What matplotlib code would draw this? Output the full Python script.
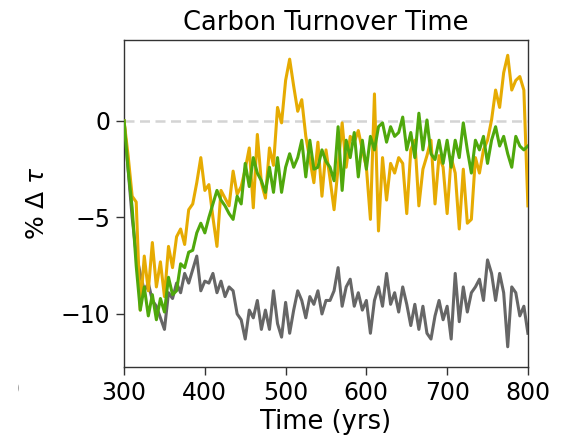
""" Carbon turnover time: % change relative to year 300
"""
import numpy as np
import matplotlib
matplotlib.use('Agg')
import matplotlib.pyplot as plt
from matplotlib.transforms import Bbox

# 5-year samples, 300 .. 800
years = np.arange(300, 801, 5)

tau_orange = [
    0.0, -1.8, -3.9, -4.2, -9.8, -7.0, -8.8, -6.3, -8.6, -7.3,
    -9.1, -6.5, -7.6, -6.0, -5.6, -6.4, -4.6, -4.3, -3.2, -1.9,
    -3.6, -3.3, -5.0, -6.5, -3.6, -4.0, -4.4, -2.6, -3.8, -3.4,
    -2.5, -1.4, -4.5, -0.7, -3.2, -4.0, -1.4, -2.3, 0.7, -0.1,
    2.1, 3.2, 1.8, 0.5, 1.1, -0.8, -2.0, -3.2, -1.1, -3.9,
    -1.5, -3.0, -4.6, -2.4, -0.1, -2.4, -0.8, -1.1, -0.5, -1.5,
    -2.4, -5.1, 1.4, -5.7, -1.9, -4.1, -2.2, -2.7, -1.9, -2.2,
    -4.8, -1.5, -1.0, -4.4, -2.5, -1.8, -1.0, -4.3, -1.8, -2.4,
    -4.8, -1.9, -2.7, -5.6, -2.5, -5.3, -5.1, -1.9, -2.7, -1.5,
    -1.0, 0.05, 1.6, 0.7, 2.5, 3.4, 1.6, 2.1, 2.3, 1.6,
    -4.4,
]

tau_green = [
    0.0, -2.5, -4.5, -7.5, -9.8, -8.6, -10.1, -9.0, -10.3, -9.2,
    -9.9, -8.1, -9.0, -8.8, -7.4, -7.6, -6.8, -6.7, -5.8, -5.3,
    -5.8, -5.0, -4.3, -3.6, -4.1, -4.4, -4.8, -5.1, -3.9, -4.3,
    -2.2, -3.4, -1.9, -2.7, -3.1, -3.7, -2.4, -3.7, -1.9, -3.7,
    -2.4, -1.7, -2.4, -1.9, -1.0, -2.9, -1.0, -2.5, -2.4, -1.5,
    -2.1, -2.4, -3.1, -0.3, -3.6, -1.0, -1.9, -0.6, -2.9, -1.0,
    -2.5, -0.8, -1.5, -0.3, -0.1, -1.1, -0.3, -0.8, -0.6, 0.2,
    -1.5, -0.6, -1.9, 0.4, -1.5, 0.05, -1.7, -2.0, -1.0, -2.2,
    -1.0, -2.4, -1.0, -1.9, -0.1, -1.5, -2.7, -1.0, -1.5, -0.8,
    -2.2, -1.0, -0.3, -1.3, -0.8, -1.7, -2.4, -0.8, -1.3, -1.5,
    -1.3,
]

tau_grey = [
    0.0, -2.5, -5.0, -6.9, -7.9, -8.8, -8.4, -9.3, -9.6, -10.2,
    -10.8, -8.9, -9.2, -8.4, -8.9, -7.9, -8.4, -7.7, -7.0, -8.8,
    -8.3, -8.4, -7.9, -8.9, -8.3, -9.1, -8.6, -8.8, -10.0, -10.3,
    -11.3, -9.8, -10.2, -9.3, -10.8, -9.8, -10.8, -8.8, -10.5, -11.2,
    -9.4, -11.0, -9.8, -8.8, -9.3, -10.2, -9.1, -9.5, -8.8, -10.0,
    -9.3, -9.3, -8.8, -7.6, -9.6, -8.6, -8.2, -9.6, -8.9, -9.8,
    -9.3, -11.0, -9.3, -8.6, -9.6, -7.9, -9.5, -8.9, -9.9, -8.6,
    -9.5, -10.6, -9.5, -10.8, -9.6, -11.0, -11.3, -10.1, -9.3, -10.3,
    -9.6, -11.3, -7.9, -10.4, -8.6, -9.9, -8.9, -8.6, -8.2, -9.3,
    -7.2, -7.9, -9.3, -7.9, -8.9, -11.7, -8.6, -8.9, -10.1, -9.6,
    -11.0,
]

xticks = [300, 400, 500, 600, 700, 800]
yticks = [-10, -5, 0]


def main():
    plt.rcParams['font.family'] = ['DejaVu Sans']
    fig = plt.figure(figsize=(5.64, 4.38), dpi=100)
    fig.subplots_adjust(left=0.22, right=0.936, bottom=0.162, top=0.909)
    ax = fig.add_subplot(1, 1, 1)

    ax.axhline(0, color='#d4d4d4', lw=1.8, dashes=(4, 2.2), zorder=1)
    ax.plot(years, tau_grey, color='#666666', lw=2.2, zorder=2)
    ax.plot(years, tau_orange, color='#e6ab02', lw=2.2, zorder=3)
    ax.plot(years, tau_green, color='#4fa80c', lw=2.2, zorder=4)

    ax.set_xlim(300, 800)
    ax.set_ylim(-12.75, 4.2)
    ax.set_xticks(xticks)
    ax.set_yticks(yticks)
    ax.tick_params(labelsize=17, length=6, width=1, pad=4, color='#333333')
    for sp in ax.spines.values():
        sp.set_color('#333333')
        sp.set_linewidth(1.0)

    ax.set_title('Carbon Turnover Time', fontsize=18.5, pad=7)
    ax.set_xlabel('Time (yrs)', fontsize=18.5, labelpad=3)
    ax.set_ylabel(r'% $\Delta$ $\tau$', fontsize=18, labelpad=8)

    # stray tick label of the neighbouring panel, only its right edge shows
    t = fig.text(12 / 564, 1 - 390 / 438, '0', fontsize=17, ha='center', va='center')
    t.set_clip_box(Bbox([[18, 0], [40, 438]]))

    fig.savefig('out.png', dpi=100)


if __name__ == '__main__':
    main()
